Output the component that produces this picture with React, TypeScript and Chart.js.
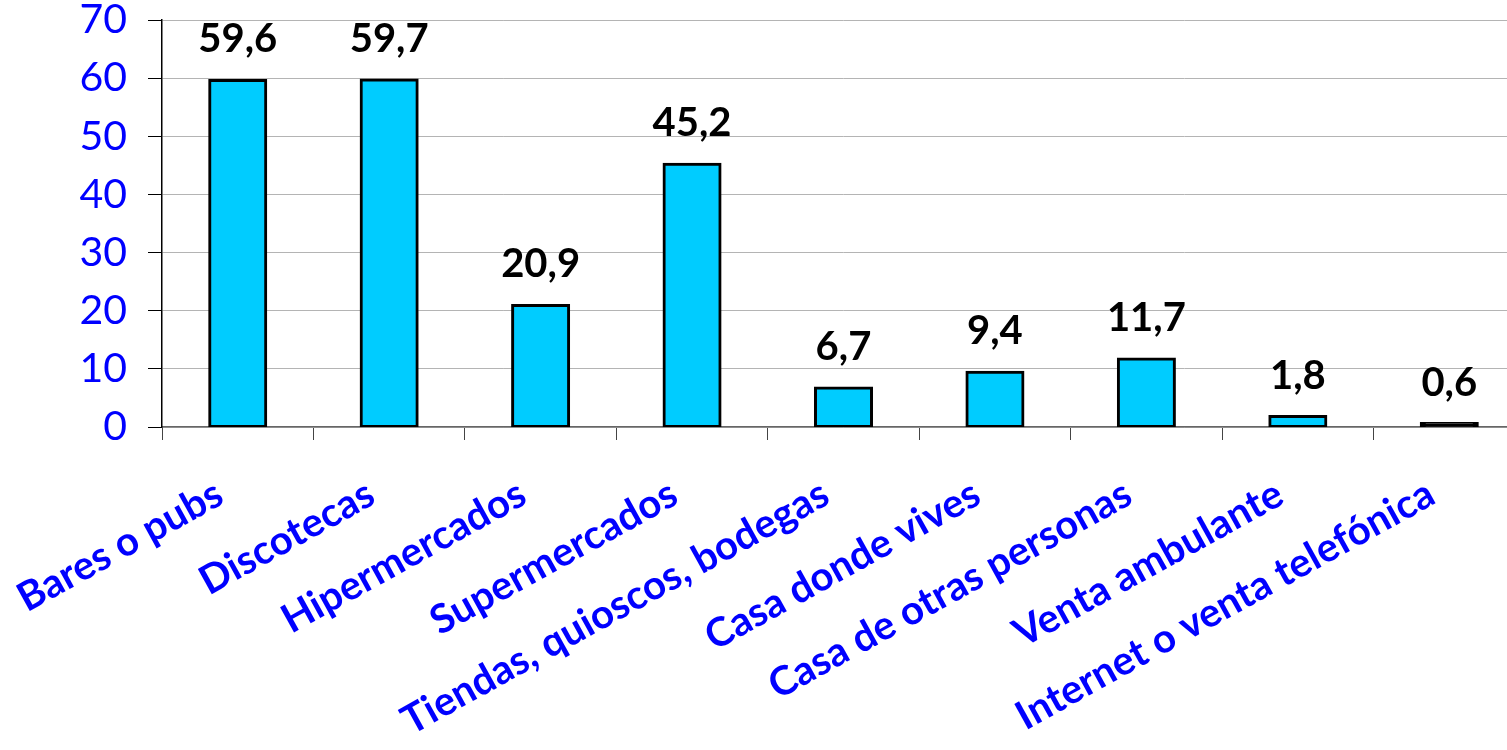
import React, { useEffect, useRef } from "react";
import { Chart, registerables } from "chart.js";

Chart.register(...registerables);

const categories = [
  "Bares o pubs",
  "Discotecas",
  "Hipermercados",
  "Supermercados",
  "Tiendas, quioscos, bodegas",
  "Casa donde vives",
  "Casa de otras personas",
  "Venta ambulante",
  "Internet o venta telefónica",
];
const values = [59.6, 59.7, 20.9, 45.2, 6.7, 9.4, 11.7, 1.8, 0.6];
const yTicks = [0, 10, 20, 30, 40, 50, 60, 70];

const valueLabels = {
  id: "valueLabels",
  afterDatasetsDraw(chart: any) {
    const ctx = chart.ctx;
    const meta = chart.getDatasetMeta(0);
    ctx.save();
    ctx.font = "bold 40px Lato";
    ctx.fillStyle = "#000";
    ctx.textAlign = "center";
    ctx.textBaseline = "alphabetic";
    meta.data.forEach((bar: any, i: number) => {
      const txt = values[i].toFixed(1).replace(".", ",");
      ctx.fillText(txt, bar.x, bar.y - 28);
    });
    ctx.restore();
  },
};

export default function App() {
  const ref = useRef<HTMLCanvasElement>(null);
  useEffect(() => {
    const chart = new Chart(ref.current!, {
      type: "bar",
      data: {
        labels: categories,
        datasets: [
          {
            data: values,
            backgroundColor: (c: any) => {
              const ys = c.chart.scales.y;
              if (!ys || c.parsed == null) return "#00CCFF";
              const h = Math.abs(ys.getPixelForValue(c.parsed.y) - ys.getPixelForValue(0));
              return h < 6 ? "#000000" : "#00CCFF";
            },
            borderColor: "#000000",
            borderWidth: 3,
            borderSkipped: false,
            inflateAmount: 1.5,
            categoryPercentage: 1,
            barPercentage: 0.37,
          },
        ],
      },
      options: {
        responsive: false,
        animation: false,
        devicePixelRatio: 1,
        layout: { padding: { top: 20, right: 0, bottom: 0, left: 0 } },
        plugins: { legend: { display: false }, tooltip: { enabled: false } },
        scales: {
          x: {
            afterFit: (s: any) => {
              s.height = 323;
              s.paddingLeft = 0;
              s.paddingRight = 0;
            },
            grid: {
              drawOnChartArea: false,
              drawTicks: true,
              tickLength: 13,
              color: "#444",
              offset: true,
            },
            border: { color: "#666", width: 1.5 },
            ticks: {
              autoSkip: false,
              maxRotation: 29,
              minRotation: 29,
              padding: 30,
              labelOffset: -18,
              color: "#0000FF",
              font: { family: "Lato", size: 40, weight: "bold" },
            },
          },
          y: {
            min: 0,
            max: 70,
            afterFit: (s: any) => {
              s.width = 162;
              s.paddingTop = 0;
              s.paddingBottom = 0;
            },
            afterBuildTicks: (s: any) => {
              s.ticks = yTicks.map((v) => ({ value: v }));
            },
            grid: {
              color: "#b4b4b4",
              tickColor: "#000",
              tickLength: 14,
              lineWidth: 1,
            },
            border: { color: "#000", width: 1.5 },
            ticks: {
              padding: 21,
              color: "#0000FF",
              font: { family: "Lato", size: 41 },
            },
          },
        },
      },
      plugins: [valueLabels],
    });
    return () => chart.destroy();
  }, []);
  return (
    <div
      style={{
        position: "fixed",
        left: 0,
        top: 0,
        width: 1507,
        height: 750,
        overflow: "hidden",
        background: "#fff",
      }}
    >
      <canvas ref={ref} width={1525} height={750} style={{ width: 1525, height: 750, display: "block" }} />
    </div>
  );
}
